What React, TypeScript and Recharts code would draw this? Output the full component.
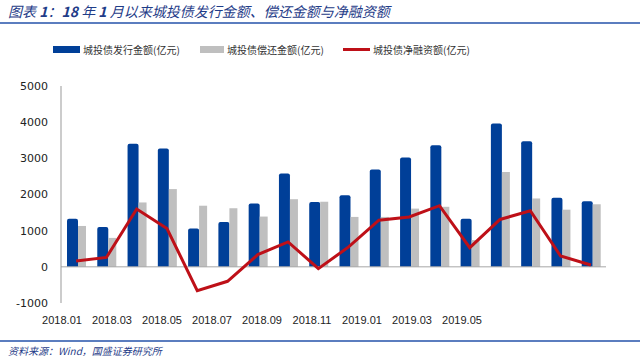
import React from 'react';
import { ComposedChart, Bar, Line, XAxis, YAxis, ReferenceLine } from 'recharts';

const months = [
  '2018.01', '2018.02', '2018.03', '2018.04', '2018.05', '2018.06',
  '2018.07', '2018.08', '2018.09', '2018.10', '2018.11', '2018.12',
  '2019.01', '2019.02', '2019.03', '2019.04', '2019.05', '2019.06',
];
const issuance = [1330, 1100, 3400, 3270, 1060, 1240, 1750, 2580, 1790, 1980, 2690, 3020, 3360, 1330, 3960, 3470, 1910, 1810];
const repayment = [1130, 800, 1780, 2150, 1690, 1620, 1390, 1870, 1800, 1380, 1380, 1610, 1660, 740, 2620, 1890, 1580, 1730];
const netFinancing = [160, 260, 1600, 1060, -660, -400, 340, 690, -50, 550, 1290, 1380, 1690, 530, 1310, 1550, 300, 50];
const yTicks = [-1000, 0, 1000, 2000, 3000, 4000, 5000];

const BLUE = '#003F98';
const GREY = '#BFBFBF';
const RED = '#BE1018';
const NAVY = '#1F3C88';

const data = months.map((m, i) => ({
  month: m,
  issuance: issuance[i],
  repayment: repayment[i],
  net: netFinancing[i],
}));

const cjk = '"Noto Sans CJK SC", sans-serif';

const LegendItem = ({ swatch, label }: { swatch: React.ReactNode; label: string }) => (
  <div style={{ display: 'flex', alignItems: 'center', whiteSpace: 'nowrap' }}>
    {swatch}
    <span style={{ marginLeft: 3, fontSize: 10, color: '#333', fontFamily: cjk }}>{label}</span>
  </div>
);

export default function App() {
  return (
    <div style={{ position: 'absolute', left: 0, top: 0, width: 640, height: 359, background: '#fff', overflow: 'hidden' }}>
      <div style={{ position: 'absolute', left: 8, top: 1, fontSize: 14, fontStyle: 'italic', color: NAVY, fontFamily: cjk, whiteSpace: 'nowrap' }}>
        图表<b> 1</b>：<b>18 </b>年<b> 1 </b>月以来城投债发行金额、偿还金额与净融资额
      </div>
      <div style={{ position: 'absolute', left: 0, top: 22, width: 640, height: 2, background: '#5B7DBF' }} />

      <div style={{ position: 'absolute', left: 53, top: 42, width: 400, height: 16 }}>
        <div style={{ position: 'absolute', left: 0, top: 0 }}>
          <LegendItem swatch={<div style={{ width: 27, height: 7, background: BLUE }} />} label="城投债发行金额(亿元)" />
        </div>
        <div style={{ position: 'absolute', left: 147, top: 0 }}>
          <LegendItem swatch={<div style={{ width: 24, height: 7, background: GREY }} />} label="城投债偿还金额(亿元)" />
        </div>
        <div style={{ position: 'absolute', left: 290, top: 0 }}>
          <LegendItem swatch={<div style={{ width: 27, height: 3, background: RED }} />} label="城投债净融资额(亿元)" />
        </div>
      </div>

      <div style={{ position: 'absolute', left: 0, top: 0 }}>
        <ComposedChart
          width={640}
          height={359}
          data={data}
          margin={{ top: 86, right: 34, left: 0, bottom: 36 }}
          barGap={0}
        >
          <XAxis xAxisId="main" dataKey="month" hide />
          <XAxis
            xAxisId="lbl"
            dataKey="month"
            scale="point"
            padding={{ left: 1, right: 119 }}
            interval={1}
            axisLine={false}
            tickLine={false}
            tickMargin={7}
            height={20}
            tick={{ fontSize: 11, fill: '#222', fontFamily: '"Liberation Sans", sans-serif' }}
          />
          <YAxis
            width={61}
            domain={[-1000, 5000]}
            ticks={yTicks}
            interval={0}
            stroke="#999"
            tickLine={false}
            tickMargin={7}
            tick={{ fontSize: 11, fill: '#222', fontFamily: '"DejaVu Sans", sans-serif' }}
          />
          <ReferenceLine xAxisId="main" y={0} stroke="#A6A6A6" strokeWidth={1} />
          <Bar xAxisId="main" dataKey="issuance" fill={BLUE} barSize={11} radius={[2, 2, 0, 0]} isAnimationActive={false} />
          <Bar xAxisId="main" dataKey="repayment" fill={GREY} barSize={8} isAnimationActive={false} />
          <Line
            xAxisId="main"
            dataKey="net"
            stroke={RED}
            strokeWidth={3}
            dot={false}
            type="linear"
            isAnimationActive={false}
          />
        </ComposedChart>
      </div>

      <div style={{ position: 'absolute', left: 0, top: 340, width: 640, height: 2, background: '#5B7DBF' }} />
      <div style={{ position: 'absolute', left: 8, top: 343, fontSize: 10, fontStyle: 'italic', color: NAVY, fontFamily: cjk, whiteSpace: 'nowrap' }}>
        资料来源：Wind，国盛证券研究所
      </div>
    </div>
  );
}
